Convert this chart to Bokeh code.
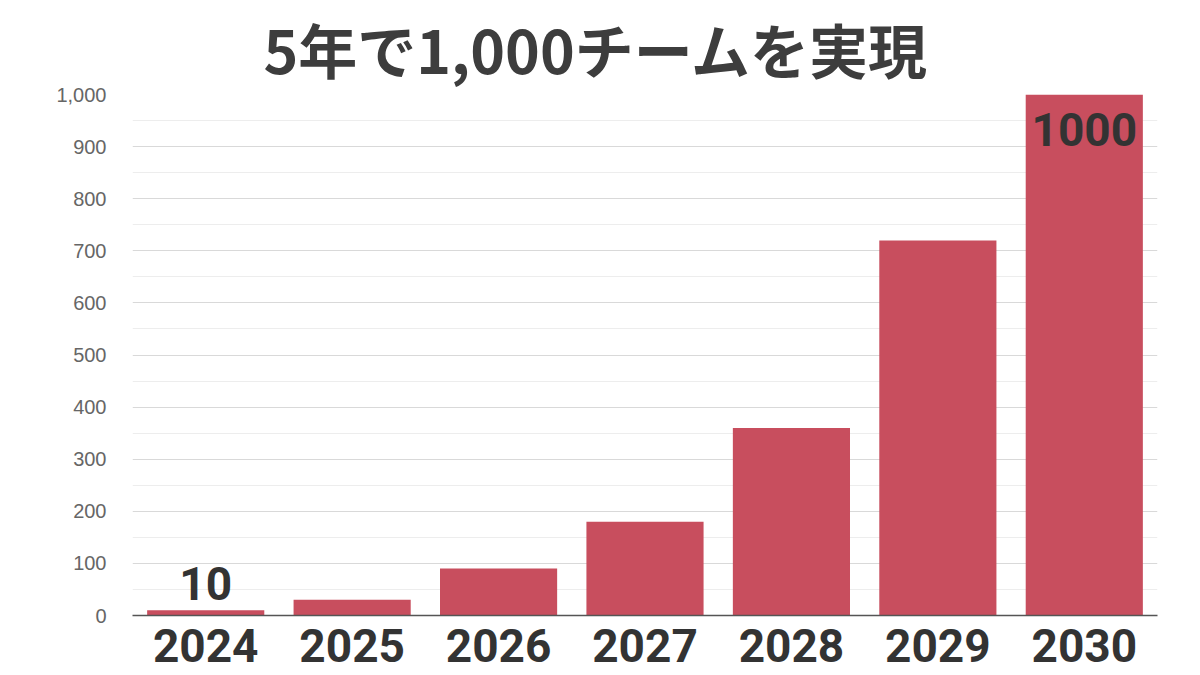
from bokeh.plotting import figure
from bokeh.models import ColumnDataSource, LabelSet, NumeralTickFormatter, FixedTicker
from bokeh.core.properties import value
from bokeh.embed import file_html
from bokeh.resources import INLINE

years = ["2024", "2025", "2026", "2027", "2028", "2029", "2030"]
teams = [10, 30, 90, 180, 360, 720, 1000]
y_ticks = [0, 100, 200, 300, 400, 500, 600, 700, 800, 900, 1000]
title_text = "5年で1,000チームを実現"

BAR = "#C84E5E"
DARK = "#333333"

source = ColumnDataSource(data=dict(year=years, teams=teams))

p = figure(
    x_range=years, y_range=(0, 1000),
    width=1200, height=675,
    output_backend="svg", toolbar_location=None,
    min_border_left=132, min_border_right=43, min_border_bottom=60, min_border_top=94,
)
p.x_range.range_padding = 0

p.title.text = title_text
p.title.align = "left"
p.title.offset = 131
p.title.text_font = "Noto Sans CJK JP"
p.title.text_font_size = "59px"
p.title.text_font_style = "bold"
p.title.text_color = "#3d3d3d"
p.title.standoff = 7

p.vbar(x="year", top="teams", width=0.8, source=source, fill_color=BAR, line_color=None)

p.outline_line_color = None
p.background_fill_color = "white"

# y axis
p.yaxis.ticker = FixedTicker(ticks=y_ticks, minor_ticks=[v + 50 for v in y_ticks[:-1]])
p.yaxis.formatter = NumeralTickFormatter(format="0,0")
p.yaxis.axis_line_color = None
p.yaxis.major_tick_line_color = None
p.yaxis.minor_tick_line_color = None
p.yaxis.major_label_text_font = "Liberation Sans"
p.yaxis.major_label_text_font_size = "20px"
p.yaxis.major_label_text_color = "#666666"
p.yaxis.major_label_standoff = 20

# x axis
p.xaxis.axis_line_color = "#555555"
p.xaxis.axis_line_width = 1.5
p.xaxis.major_tick_line_color = None
p.xaxis.minor_tick_line_color = None
p.xaxis.major_label_text_font = "Roboto"
p.xaxis.major_label_text_font_size = "46px"
p.xaxis.major_label_text_font_style = "bold"
p.xaxis.major_label_text_color = DARK
p.xaxis.major_label_standoff = 7

p.xgrid.grid_line_color = None
p.ygrid.grid_line_color = "#d9d9d9"
p.ygrid.grid_line_width = 1
p.ygrid.minor_grid_line_color = "#ededed"
p.ygrid.minor_grid_line_width = 1

# value labels (first and last bar)
first_src = ColumnDataSource(data=dict(year=[years[0]], val=[teams[0]], txt=[str(teams[0])]))
last_src = ColumnDataSource(data=dict(year=[years[-1]], val=[teams[-1]], txt=[str(teams[-1])]))
common = dict(text_align="center", text_font=value("Roboto"), text_font_size=value("46px"),
              text_font_style="bold", text_color=DARK)
p.add_layout(LabelSet(x="year", y="val", text="txt", source=first_src,
                      text_baseline="bottom", y_offset=10, **common))
p.add_layout(LabelSet(x="year", y="val", text="txt", source=last_src,
                      text_baseline="top", y_offset=-18, **common))

open("out.html", "w").write(file_html(p, INLINE))
